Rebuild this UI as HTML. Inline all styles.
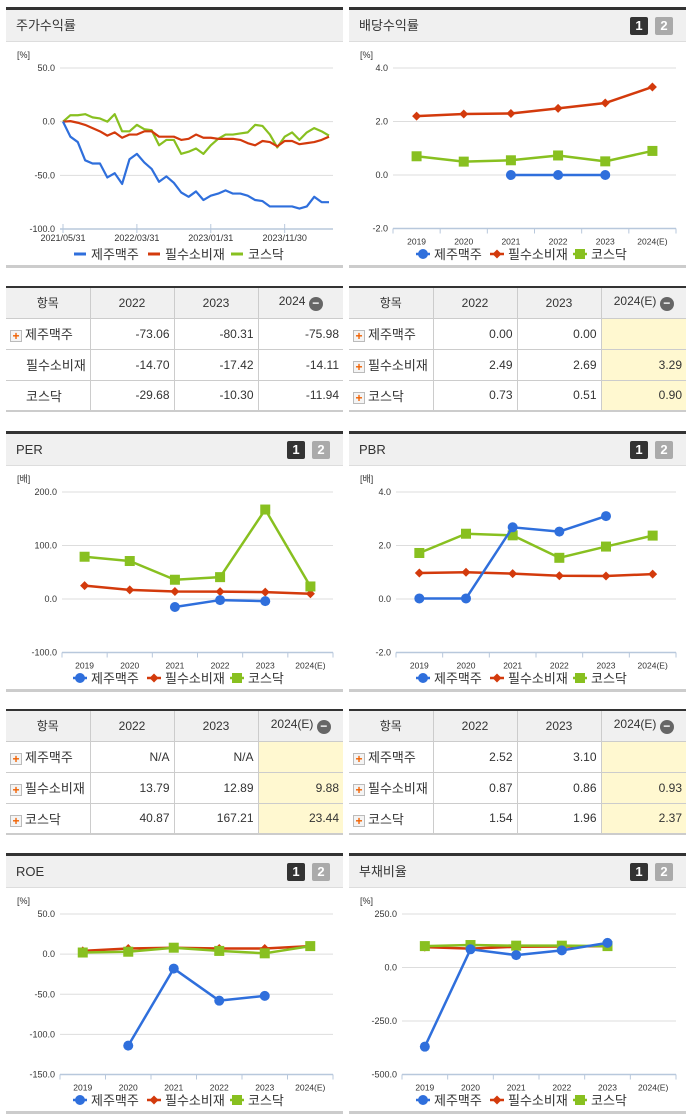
<!DOCTYPE html>
<html><head><meta charset="utf-8">
<style>
*{margin:0;padding:0;box-sizing:border-box}
body{width:691px;height:1115px;background:#fff;position:relative;overflow:hidden;font-family:"Liberation Sans","Noto Sans CJK KR",sans-serif;color:#333}
.panel{position:absolute;width:337px;border-top:3px solid #333;border-bottom:3px solid #ccc;background:#fff}
.hdr{height:32px;background:#f0f0f0;border-bottom:1px solid #ddd;font-size:13px;line-height:31px;padding-left:10px;position:relative;color:#333}
.btn1,.btn2{position:absolute;top:7px;width:18px;height:18px;font-size:13px;font-weight:bold;color:#fff;text-align:center;line-height:18px;border-radius:2px}
.btn1{left:281px;background:#333}.btn2{left:306px;background:#aaa}
.panel svg{position:absolute;left:0;top:0}
table{position:absolute;width:337px;table-layout:fixed;border-collapse:collapse;border-top:2px solid #333;border-bottom:2px solid #ccc;font-size:12px}
td,th{border:1px solid #ccc;height:31px;font-weight:normal;white-space:nowrap;overflow:hidden}
th{background:#f0f0f0;text-align:center}
td{text-align:right;padding-right:4px;color:#333}
td.lbl{text-align:left;padding-left:4px;font-size:13px;padding-right:0}
tr>*:first-child{border-left:none}tr>*:last-child{border-right:none}
td.y{background:#fff8d0}
.plus{display:inline-block;width:12px;height:12px;border:1px solid #bbb;background:#f4f4f4;color:#f06000;font-size:12px;line-height:10px;text-align:center;font-weight:bold;vertical-align:-1px;margin-right:3px}
.minus{display:inline-block;width:14px;height:14px;border-radius:7px;background:#666;color:#fff;font-size:12px;line-height:13px;text-align:center;font-weight:bold;vertical-align:-2px}
</style></head><body>

<div class="panel" style="left:6px;top:7px;height:261px"><div class="hdr">주가수익률</div><svg id="c1" width="337" height="258"></svg></div>
<div class="panel" style="left:349px;top:7px;height:261px"><div class="hdr">배당수익률<span class="btn1">1</span><span class="btn2">2</span></div><svg id="c2" width="337" height="258"></svg></div>

<table style="left:6px;top:286px">
<colgroup><col style="width:84px"><col style="width:84px"><col style="width:84px"><col style="width:85px"></colgroup>
<tr><th>항목</th><th>2022</th><th>2023</th><th>2024 <span class="minus">−</span></th></tr>
<tr><td class="lbl"><span class="plus">+</span>제주맥주</td><td>-73.06</td><td>-80.31</td><td>-75.98</td></tr>
<tr><td class="lbl" style="padding-left:20px">필수소비재</td><td>-14.70</td><td>-17.42</td><td>-14.11</td></tr>
<tr><td class="lbl" style="padding-left:20px">코스닥</td><td>-29.68</td><td>-10.30</td><td>-11.94</td></tr>
</table>
<table style="left:349px;top:286px">
<colgroup><col style="width:84px"><col style="width:84px"><col style="width:84px"><col style="width:85px"></colgroup>
<tr><th>항목</th><th>2022</th><th>2023</th><th>2024(E) <span class="minus">−</span></th></tr>
<tr><td class="lbl"><span class="plus">+</span>제주맥주</td><td>0.00</td><td>0.00</td><td class="y"></td></tr>
<tr><td class="lbl"><span class="plus">+</span>필수소비재</td><td>2.49</td><td>2.69</td><td class="y">3.29</td></tr>
<tr><td class="lbl"><span class="plus">+</span>코스닥</td><td>0.73</td><td>0.51</td><td class="y">0.90</td></tr>
</table>

<div class="panel" style="left:6px;top:431px;height:261px"><div class="hdr">PER<span class="btn1">1</span><span class="btn2">2</span></div><svg id="c3" width="337" height="258"></svg></div>
<div class="panel" style="left:349px;top:431px;height:261px"><div class="hdr">PBR<span class="btn1">1</span><span class="btn2">2</span></div><svg id="c4" width="337" height="258"></svg></div>

<table style="left:6px;top:709px">
<colgroup><col style="width:84px"><col style="width:84px"><col style="width:84px"><col style="width:85px"></colgroup>
<tr><th>항목</th><th>2022</th><th>2023</th><th>2024(E) <span class="minus">−</span></th></tr>
<tr><td class="lbl"><span class="plus">+</span>제주맥주</td><td>N/A</td><td>N/A</td><td class="y"></td></tr>
<tr><td class="lbl"><span class="plus">+</span>필수소비재</td><td>13.79</td><td>12.89</td><td class="y">9.88</td></tr>
<tr><td class="lbl"><span class="plus">+</span>코스닥</td><td>40.87</td><td>167.21</td><td class="y">23.44</td></tr>
</table>
<table style="left:349px;top:709px">
<colgroup><col style="width:84px"><col style="width:84px"><col style="width:84px"><col style="width:85px"></colgroup>
<tr><th>항목</th><th>2022</th><th>2023</th><th>2024(E) <span class="minus">−</span></th></tr>
<tr><td class="lbl"><span class="plus">+</span>제주맥주</td><td>2.52</td><td>3.10</td><td class="y"></td></tr>
<tr><td class="lbl"><span class="plus">+</span>필수소비재</td><td>0.87</td><td>0.86</td><td class="y">0.93</td></tr>
<tr><td class="lbl"><span class="plus">+</span>코스닥</td><td>1.54</td><td>1.96</td><td class="y">2.37</td></tr>
</table>

<div class="panel" style="left:6px;top:853px;height:261px"><div class="hdr">ROE<span class="btn1">1</span><span class="btn2">2</span></div><svg id="c5" width="337" height="258"></svg></div>
<div class="panel" style="left:349px;top:853px;height:261px"><div class="hdr">부채비율<span class="btn1">1</span><span class="btn2">2</span></div><svg id="c6" width="337" height="258"></svg></div>

<script>
const years = ["2019","2020","2021","2022","2023","2024(E)"];
const seriesNames = ["제주맥주","필수소비재","코스닥"];
const colors = ["#2f6fdc","#d33a0c","#88c020"];

const stockDateLabels = ["2021/05/31","2022/03/31","2023/01/31","2023/11/30"];
const stockLabelIdx = [0,10,20,30];
const stockJeju = [0,-14,-19,-36,-39,-39,-52,-48,-58,-35,-30,-38,-44,-56,-51,-57,-66,-70,-65,-73,-69,-67,-64,-67,-67,-69,-73,-74,-79,-79,-79,-79,-81,-79,-70,-75,-75];
const stockStaples = [0,0.5,-1,-3,-6,-9,-13,-10,-15,-12,-12,-9,-9,-14,-14,-14,-17,-16,-12,-15,-15,-16,-16,-16,-17,-20,-22,-18,-19,-23,-18,-18,-21,-20,-19,-17,-14];
const stockKosdaq = [0,6,6,7,4,3,0,7,-9,-9,-3,-7,-8,-22,-17,-17,-30,-28,-25,-30,-22,-16,-12,-12,-11,-10,-3,-4,-12,-24,-14,-10,-17,-10,-6,-9,-13];
const stockTicks = [50,0,-50,-100];

const divJeju = [null,null,0,0,0,null];
const divStaples = [2.2,2.28,2.3,2.49,2.69,3.29];
const divKosdaq = [0.7,0.5,0.55,0.73,0.51,0.9];
const divTicks = [4,2,0,-2];

const perJeju = [null,null,-15,-2,-4,null];
const perStaples = [25,17,14,13.79,12.89,9.88];
const perKosdaq = [79,71,36,40.87,167.21,23.44];
const perTicks = [200,100,0,-100];

const pbrJeju = [0.02,0.02,2.68,2.52,3.10,null];
const pbrStaples = [0.97,1.0,0.95,0.87,0.86,0.93];
const pbrKosdaq = [1.72,2.44,2.38,1.54,1.96,2.37];
const pbrTicks = [4,2,0,-2];

const roeJeju = [null,-114,-18,-58,-52,null];
const roeStaples = [4,7,8,7,7,10];
const roeKosdaq = [2,3,8,4,1,10];
const roeTicks = [50,0,-50,-100,-150];

const debtJeju = [-370,85,58,80,115,null];
const debtStaples = [95,88,97,98,100,null];
const debtKosdaq = [100,105,102,102,100,null];
const debtTicks = [250,0,-250,-500];

const NS="http://www.w3.org/2000/svg";
function mk(svg,tag,attrs){const e=document.createElementNS(NS,tag);for(const k in attrs)e.setAttribute(k,attrs[k]);svg.appendChild(e);return e;}

function drawMarker(svg,kind,x,y,c){
  let m;
  if(kind===0){m=mk(svg,'circle',{cx:x,cy:y,r:5,fill:c});}
  else if(kind===1){m=mk(svg,'path',{d:`M${x} ${y-4.5}L${x+4.5} ${y}L${x} ${y+4.5}L${x-4.5} ${y}Z`,fill:c});}
  else {m=mk(svg,'rect',{x:x-5,y:y-5,width:10,height:10,fill:c});}
  
  
}

function frame(svg,ticks,unit,x0,x1,yTop,yBot){
  const max=ticks[0],min=ticks[ticks.length-1];
  const ys=v=>yTop+(max-v)/(max-min)*(yBot-yTop);
  const u=mk(svg,'text',{x:11,y:48,'font-size':9,fill:'#333'});u.textContent=unit;
  
  
  ticks.forEach(t=>{
    const y=ys(t);
    if(t!==min){const g=mk(svg,'line',{x1:x0,x2:x1,y1:y,y2:y,stroke:'#ddd','stroke-width':1});
      
      }
    const tx=mk(svg,'text',{x:x0-5,y:y+3,'font-size':9,'text-anchor':'end',fill:'#333'});
    tx.textContent=t.toFixed(1);
    
    
  });
  mk(svg,'line',{x1:x0,x2:x1,y1:yBot,y2:yBot,stroke:'#b8c8dc','stroke-width':1.5});
  return ys;
}

function legend(svg,lineIcon){
  const ix=[74,148,231];
  seriesNames.forEach((n,i)=>{
    if(lineIcon){mk(svg,'line',{x1:ix[i]-6,x2:ix[i]+6,y1:244,y2:244,stroke:colors[i],'stroke-width':3});}
    else{mk(svg,'line',{x1:ix[i]-7,x2:ix[i]+7,y1:244,y2:244,stroke:colors[i],'stroke-width':2.5});drawMarker(svg,i,ix[i],244,colors[i]);}
    const t=mk(svg,'text',{x:ix[i]+11,y:249,'font-size':13,fill:'#333'});t.textContent=n;
    
    
  });
}

function catChart(id,ticks,unit,x0,data){
  const svg=document.getElementById(id);
  const x1=327,yTop=58,yBot=218.5;
  const ys=frame(svg,ticks,unit,x0,x1,yTop,yBot);
  const bw=(x1-x0)/years.length;
  const xs=i=>x0+bw*(i+0.5);
  for(let i=0;i<=years.length;i++){mk(svg,'line',{x1:x0+bw*i,x2:x0+bw*i,y1:yBot,y2:yBot+5,stroke:'#b8c8dc','stroke-width':1});}
  years.forEach((y,i)=>{const t=mk(svg,'text',{x:xs(i),y:yBot+16,'font-size':8.5,'text-anchor':'middle',fill:'#333'});t.textContent=y;
    
    });
  [1,2,0].forEach(s=>{
    const vals=data[s];let d='';let pen=false;
    vals.forEach((v,i)=>{if(v===null){pen=false;return;}d+=(pen?'L':'M')+xs(i)+' '+ys(v);pen=true;});
    const p=mk(svg,'path',{d:d,fill:'none',stroke:colors[s],'stroke-width':2.5,'stroke-linejoin':'round'});
    
    
    vals.forEach((v,i)=>{if(v!==null)drawMarker(svg,s,xs(i),ys(v),colors[s]);});
  });
  legend(svg,false);
}

(function(){
  const svg=document.getElementById('c1');
  const x0=54,x1=327,yTop=58,yBot=219;
  const ys=frame(svg,stockTicks,'[%]',x0,x1,yTop,yBot);
  const n=stockJeju.length;
  const xs=i=>57+i*(266/(n-1));
  stockLabelIdx.forEach((idx,k)=>{
    mk(svg,'line',{x1:xs(idx),x2:xs(idx),y1:yBot-5,y2:yBot+4,stroke:'#b8c8dc','stroke-width':1});
    const t=mk(svg,'text',{x:xs(idx),y:yBot+12,'font-size':9,'text-anchor':'middle',fill:'#333'});t.textContent=stockDateLabels[k];
    
    
  });
  [stockKosdaq,stockStaples,stockJeju].forEach((vals,k)=>{
    const s=[2,1,0][k];
    const d=vals.map((v,i)=>(i?'L':'M')+xs(i)+' '+ys(v)).join('');
    const p=mk(svg,'path',{d:d,fill:'none',stroke:colors[s],'stroke-width':2.2,'stroke-linejoin':'round'});
    
    
  });
  legend(svg,true);
})();

catChart('c2',divTicks,'[%]',44,[divJeju,divStaples,divKosdaq]);
catChart('c3',perTicks,'[배]',56,[perJeju,perStaples,perKosdaq]);
catChart('c4',pbrTicks,'[배]',47,[pbrJeju,pbrStaples,pbrKosdaq]);
catChart('c5',roeTicks,'[%]',54,[roeJeju,roeStaples,roeKosdaq]);
catChart('c6',debtTicks,'[%]',53,[debtJeju,debtStaples,debtKosdaq]);
</script>
</body></html>
